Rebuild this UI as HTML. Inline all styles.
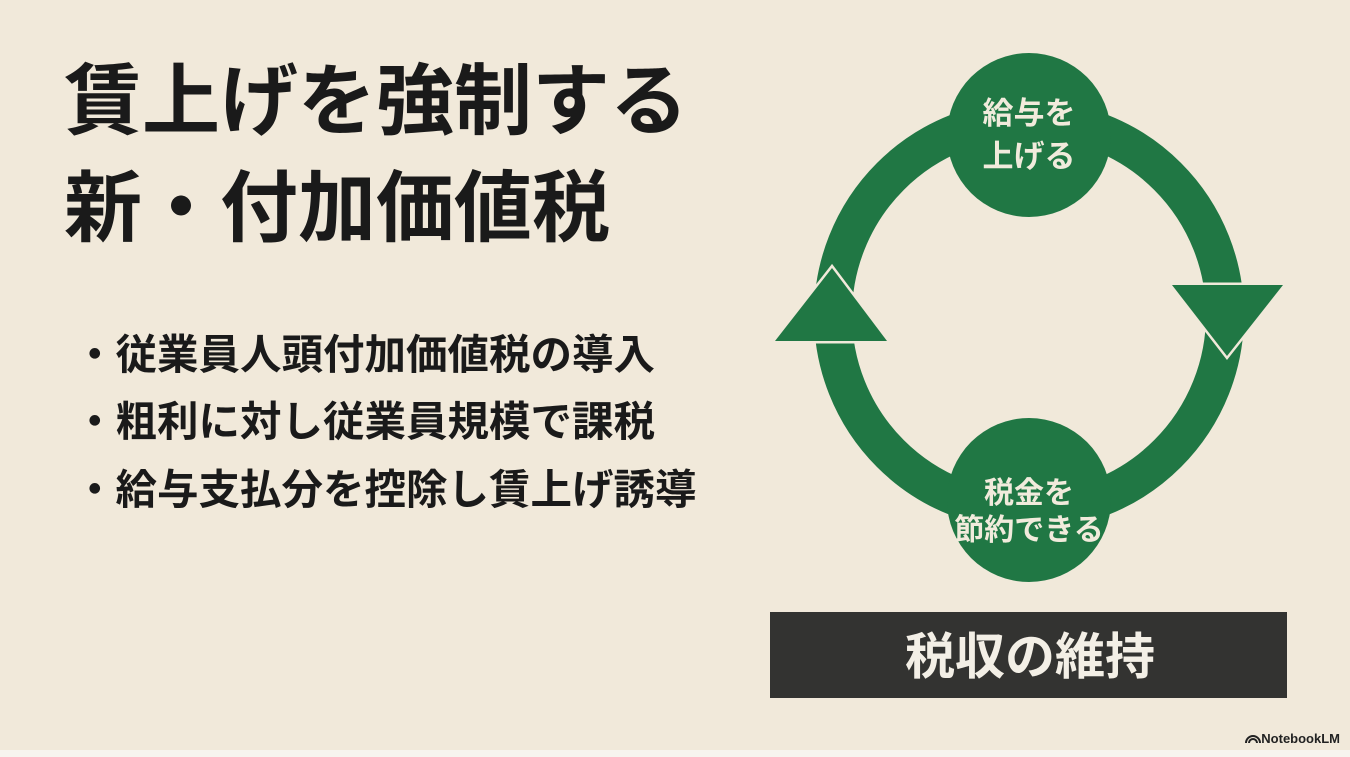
<!DOCTYPE html>
<html><head><meta charset="utf-8"><style>
body{margin:0;width:1350px;height:757px;background:#f1e9da;overflow:hidden;position:relative;font-family:"Liberation Sans","Noto Sans CJK JP",sans-serif;}
.t{position:absolute;left:64px;font-size:78px;font-weight:bold;color:#1a1a1a;line-height:1;letter-spacing:0px}
.b{position:absolute;left:74px;font-size:41.5px;font-weight:bold;color:#1a1a1a;line-height:1}
.strip{position:absolute;left:0;top:750px;width:1350px;height:7px;background:#f7f4ee}
</style></head><body>
<div class="t" style="top:62px">賃上げを強制する</div>
<div class="t" style="top:169px">新・付加価値税</div>
<div class="b" style="top:334px">・従業員人頭付加価値税の導入</div>
<div class="b" style="top:401px">・粗利に対し従業員規模で課税</div>
<div class="b" style="top:469px">・給与支払分を控除し賃上げ誘導</div>
<svg width="1350" height="757" style="position:absolute;left:0;top:0">
<circle cx="1029" cy="315" r="196" fill="none" stroke="#207744" stroke-width="38"/>
<polygon points="1172,285 1283,285 1227,356" fill="#207744" stroke="#f1e9da" stroke-width="5" stroke-linejoin="miter"/>
<polygon points="775,341 887,341 832,268" fill="#207744" stroke="#f1e9da" stroke-width="5" stroke-linejoin="miter"/>
<polygon points="1172,285 1283,285 1227,356" fill="#207744"/>
<polygon points="775,341 887,341 832,268" fill="#207744"/>
<circle cx="1029" cy="135" r="82" fill="#207744"/>
<circle cx="1029" cy="500" r="82" fill="#207744"/>
<g font-family="Liberation Sans, Noto Sans CJK JP, sans-serif" font-weight="bold" fill="#f1ebdc" text-anchor="middle">
<text x="1029" y="124" font-size="31">給与を</text>
<text x="1029" y="167" font-size="31">上げる</text>
<text x="1029" y="503" font-size="30">税金を</text>
<text x="1029" y="540" font-size="30">節約できる</text>
</g>
<rect x="770" y="612" width="517" height="86" fill="#333331"/>
<text x="1030" y="674" font-family="Liberation Sans, Noto Sans CJK JP, sans-serif" font-weight="bold" font-size="50" fill="#f3efe6" text-anchor="middle">税収の維持</text>
<text x="1340" y="743" font-family="Liberation Sans, sans-serif" font-weight="bold" font-size="13" fill="#222" text-anchor="end">NotebookLM</text>
<path d="M1246,743 a7,7 0 0 1 14,0 M1249,743 a4,4 0 0 1 8,0" fill="none" stroke="#222" stroke-width="2"/>
</svg>
<div class="strip"></div>
</body></html>
